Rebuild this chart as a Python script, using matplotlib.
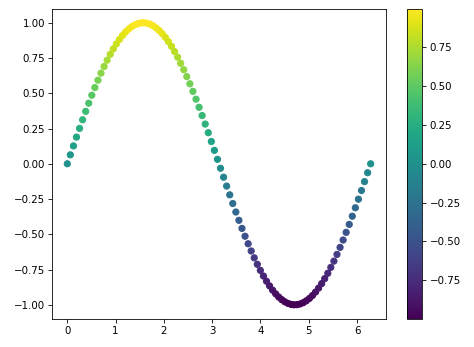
import matplotlib
matplotlib.use("Agg")
import matplotlib.pyplot as plt

x_vals = [0.000, 0.063, 0.127, 0.190, 0.254, 0.317, 0.381, 0.444, 0.508, 0.571,
          0.635, 0.698, 0.762, 0.825, 0.889, 0.952, 1.015, 1.079, 1.142, 1.206,
          1.269, 1.333, 1.396, 1.460, 1.523, 1.587, 1.650, 1.714, 1.777, 1.840,
          1.904, 1.967, 2.031, 2.094, 2.158, 2.221, 2.285, 2.348, 2.412, 2.475,
          2.539, 2.602, 2.666, 2.729, 2.792, 2.856, 2.919, 2.983, 3.046, 3.110,
          3.173, 3.237, 3.300, 3.364, 3.427, 3.491, 3.554, 3.618, 3.681, 3.745,
          3.808, 3.871, 3.935, 3.998, 4.062, 4.125, 4.189, 4.252, 4.316, 4.379,
          4.443, 4.506, 4.570, 4.633, 4.697, 4.760, 4.823, 4.887, 4.950, 5.014,
          5.077, 5.141, 5.204, 5.268, 5.331, 5.395, 5.458, 5.522, 5.585, 5.649,
          5.712, 5.775, 5.839, 5.902, 5.966, 6.029, 6.093, 6.156, 6.220, 6.283]

y_vals = [0.0000, 0.0634, 0.1266, 0.1893, 0.2511, 0.3120, 0.3717, 0.4298, 0.4862, 0.5406,
          0.5929, 0.6428, 0.6901, 0.7346, 0.7762, 0.8146, 0.8497, 0.8815, 0.9096, 0.9342,
          0.9549, 0.9718, 0.9848, 0.9938, 0.9989, 0.9999, 0.9969, 0.9898, 0.9788, 0.9639,
          0.9450, 0.9224, 0.8960, 0.8660, 0.8326, 0.7958, 0.7558, 0.7127, 0.6668, 0.6182,
          0.5671, 0.5137, 0.4582, 0.4009, 0.3420, 0.2817, 0.2203, 0.1580, 0.0951, 0.0317,
          -0.0317, -0.0951, -0.1580, -0.2203, -0.2817, -0.3420, -0.4009, -0.4582, -0.5137, -0.5671,
          -0.6182, -0.6668, -0.7127, -0.7558, -0.7958, -0.8326, -0.8660, -0.8960, -0.9224, -0.9450,
          -0.9639, -0.9788, -0.9898, -0.9969, -0.9999, -0.9989, -0.9938, -0.9848, -0.9718, -0.9549,
          -0.9342, -0.9096, -0.8815, -0.8497, -0.8146, -0.7762, -0.7346, -0.6901, -0.6428, -0.5929,
          -0.5406, -0.4862, -0.4298, -0.3717, -0.3120, -0.2511, -0.1893, -0.1266, -0.0634, 0.0000]

fig = plt.figure(figsize=(474 / 74, 347 / 74), dpi=74)
ax = fig.add_axes([0.110, 0.081, 0.704, 0.894])
cax = fig.add_axes([0.859, 0.081, 0.032, 0.894])

sc = ax.scatter(x_vals, y_vals, c=y_vals, cmap="viridis")
fig.colorbar(sc, cax=cax)

fig.savefig("out.png", dpi=74)
